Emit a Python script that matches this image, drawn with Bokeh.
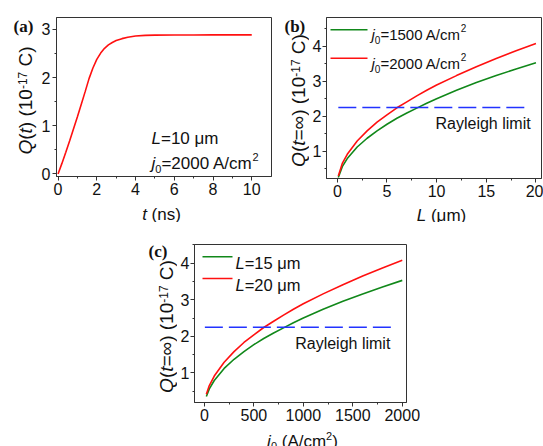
import math
from bokeh.plotting import figure
from bokeh.layouts import column, row
from bokeh.models import Label, Arrow, FixedTicker, Range1d
from bokeh.embed import file_html
from bokeh.resources import INLINE

# ---------------- data ----------------
t_ns = [0, 0.2, 0.4, 0.6, 0.8, 1.0, 1.2, 1.4, 1.6, 1.8, 2.0, 2.2, 2.4, 2.6, 2.8,
        3.0, 3.3, 3.6, 4.0, 4.5, 5.0, 6.0, 7.0, 8.0, 9.0, 10.0]
q_t = [0, 0.22, 0.45, 0.69, 0.94, 1.19, 1.45, 1.71, 1.98, 2.20, 2.38, 2.51, 2.61,
       2.68, 2.73, 2.77, 2.81, 2.84, 2.865, 2.877, 2.883, 2.886, 2.887, 2.888, 2.888, 2.888]

L_um = [0.1, 0.5, 1, 2, 3, 4, 5, 6, 7, 8, 9, 10, 12, 14, 16, 18, 20]
q_L_j1500 = [0.25, 0.56, 0.79, 1.12, 1.37, 1.58, 1.77, 1.94, 2.09, 2.23, 2.37, 2.50,
             2.74, 2.96, 3.16, 3.35, 3.53]
q_L_j2000 = [0.29, 0.65, 0.91, 1.29, 1.58, 1.83, 2.04, 2.24, 2.41, 2.58, 2.74, 2.89,
             3.16, 3.41, 3.65, 3.87, 4.08]

j0_Acm2 = [20, 50, 100, 200, 300, 400, 500, 600, 700, 800, 900, 1000, 1200, 1400, 1600, 1800, 2000]
q_j_L15 = [0.35, 0.56, 0.79, 1.12, 1.37, 1.58, 1.77, 1.94, 2.09, 2.23, 2.37, 2.50,
           2.74, 2.96, 3.16, 3.35, 3.53]
q_j_L20 = [0.41, 0.65, 0.91, 1.29, 1.58, 1.83, 2.04, 2.24, 2.41, 2.58, 2.74, 2.89,
           3.16, 3.41, 3.65, 3.87, 4.08]

rayleigh_limit = 2.25
rayleigh_L_span = [0.1, 19.1]
rayleigh_j_span = [5, 1900]

a_xticks = [0, 2, 4, 6, 8, 10]
a_xminor = [1, 3, 5, 7, 9]
a_yticks = [0, 1, 2, 3]
a_yminor = [0.5, 1.5, 2.5]
b_xticks = [0, 5, 10, 15, 20]
b_xminor = [2.5, 7.5, 12.5, 17.5]
b_yticks = [1, 2, 3, 4]
b_yminor = [0.5, 1.5, 2.5, 3.5, 4.5]
c_xticks = [0, 500, 1000, 1500, 2000]
c_xminor = [250, 750, 1250, 1750]
c_yticks = [1, 2, 3, 4]
c_yminor = [0.5, 1.5, 2.5, 3.5, 4.5]

# ---------------- styling ----------------
FONT = "Liberation Sans"
SERIF = "Liberation Serif"
TXT = "#111111"
AX = "#333333"
RED = "#ff1010"
GREEN = "#11881a"
BLUE = "#2233ff"

W = {' ': 278, '(': 333, ')': 333, '=': 584, '-': 333, '/': 278, 'A': 667, 'C': 722,
     'L': 556, 'Q': 778, 'R': 722, 'a': 556, 'c': 500, 'e': 556, 'g': 556, 'h': 556,
     'i': 222, 'j': 222, 'l': 222, 'm': 833, 'n': 556, 's': 500, 't': 278, 'y': 500,
     '\u03bc': 576, '\u221e': 713}
for d in "0123456789":
    W[d] = 556


def tw(s, size):
    return sum(W.get(ch, 556) for ch in s) * size / 1000.0


def make_fig(w, h, xr, yr, borders, xt, xm, yt, ym, ystand):
    l, r, t, b = borders
    p = figure(width=w, height=h, x_range=Range1d(*xr), y_range=Range1d(*yr),
               output_backend="svg", toolbar_location=None,
               min_border_left=l, min_border_right=r, min_border_top=t, min_border_bottom=b)
    p.grid.visible = False
    p.outline_line_color = AX
    p.outline_line_width = 1
    p.background_fill_color = "white"
    p.border_fill_color = "white"
    p.xaxis.ticker = FixedTicker(ticks=xt, minor_ticks=xm)
    p.yaxis.ticker = FixedTicker(ticks=yt, minor_ticks=ym)
    for ax in p.axis:
        ax.axis_line_color = AX
        ax.major_tick_line_color = AX
        ax.minor_tick_line_color = AX
        ax.major_tick_in = 0
        ax.major_tick_out = 4
        ax.minor_tick_in = 0
        ax.minor_tick_out = 2
        ax.major_label_text_font = FONT
        ax.major_label_text_font_size = "16px"
        ax.major_label_text_color = TXT
    p.xaxis.major_label_standoff = 2
    p.yaxis.major_label_standoff = ystand
    return p


def carrier(w, h):
    """Blank figure used only to hold text placed outside the plot frames."""
    p = figure(width=w, height=h, x_axis_type=None, y_axis_type=None,
               output_backend="svg", toolbar_location=None,
               min_border_left=0, min_border_right=0, min_border_top=0, min_border_bottom=0)
    p.outline_line_color = None
    p.background_fill_color = "white"
    p.border_fill_color = "white"
    return p


def rich(p, org, parts, rx, ry, align="left", vertical=False):
    """parts: (text, size, style, dy); org = page position of frame's left/bottom."""
    total = sum(tw(s, sz) for s, sz, st, dy in parts)
    pos = -total / 2.0 if align == "center" else 0.0
    sx0 = rx - org[0]
    sy0 = org[1] - ry
    for s, sz, st, dy in parts:
        lead = len(s) - len(s.lstrip(' '))
        txt = s.strip(' ')
        off = pos + lead * W[' '] * sz / 1000.0
        if vertical:
            # rotated text is anchored on its descent line (rx is the baseline)
            x, y, ang, base = sx0 - dy + 0.21 * sz, sy0 + off, math.pi / 2, "bottom"
        else:
            x, y, ang, base = sx0 + off, sy0 + dy, 0, "alphabetic"
        p.add_layout(Label(x=x, y=y, x_units="screen", y_units="screen", text=txt,
                           angle=ang, text_font=FONT, text_font_size=f"{sz}px",
                           text_font_style=st, text_align="left",
                           text_baseline=base, text_color=TXT))
        pos += tw(s, sz)


def panel_tag(p, org, s, rx, ry):
    p.add_layout(Label(x=rx - org[0], y=org[1] - ry, x_units="screen",
                       y_units="screen", text=s, text_font=SERIF, text_font_size="17px",
                       text_font_style="bold", text_align="left",
                       text_baseline="alphabetic", text_color=TXT))


def legend_line(p, org, x0, x1, ry, color):
    y = org[1] - ry
    p.add_layout(Arrow(end=None, start=None, x_start=x0 - org[0], x_end=x1 - org[0],
                       y_start=y, y_end=y, start_units="screen", end_units="screen",
                       line_color=color, line_width=1.6))


def ylabel_parts(inner):
    return [("Q", 19, "italic", 0), ("(", 19, "normal", 0), ("t", 19, "italic", 0),
            (inner + ") (10", 19, "normal", 0), ("-17", 12, "normal", 8),
            (" C)", 19, "normal", 0)]


# ---------------- panel (a) ----------------
LA = carrier(38, 222)
orgLA = (0, 222)
panel_tag(LA, orgLA, "(a)", 13, 26)
rich(LA, orgLA, ylabel_parts(""), 31.5, 100, align="center", vertical=True)

pa = make_fig(238, 200, (-0.08, 11.02), (-0.052, 3.249), (15, 5, 17, 24),
              a_xticks, a_xminor, a_yticks, a_yminor, 2)
orgA = (53, 176)
pa.line(t_ns, q_t, line_color=RED, line_width=1.6)
rich(pa, orgA, [("L", 17, "italic", 0), ("=10 \u03bcm", 17, "normal", 0)], 148, 138.3)
rich(pa, orgA, [("j", 17, "italic", 0), ("0", 11, "normal", -5), ("=2000 A/cm", 17, "normal", 0),
                ("2", 11, "normal", 7)], 148, 163.3)

BA = carrier(238, 22)
orgBA = (53, 222)      # its frame is aligned with panel (a)'s frame
rich(BA, orgBA, [("t", 17, "italic", 0), (" (ns)", 17, "normal", 0)], 158, 213.5, align="center")

# ---------------- panel (b) ----------------
LB = carrier(33, 222)
orgLB = (276, 222)
panel_tag(LB, orgLB, "(b)", 284, 26)
rich(LB, orgLB, ylabel_parts("=\u221e"), 304.5, 100, align="center", vertical=True)

pb = make_fig(234, 202, (-1.09, 20.56), (0.22, 4.82), (14, 2, 17, 24),
              b_xticks, b_xminor, b_yticks, b_yminor, 1)
orgB = (323, 178)
pb.line(L_um, q_L_j1500, line_color=GREEN, line_width=1.6)
pb.line(L_um, q_L_j2000, line_color=RED, line_width=1.6)
pb.line(rayleigh_L_span, [rayleigh_limit] * 2, line_color=BLUE, line_width=1.5, line_dash="18 6")
legend_line(pb, orgB, 327, 364, 29.3, GREEN)
legend_line(pb, orgB, 327, 364, 57.7, RED)
rich(pb, orgB, [("j", 15, "italic", 0), ("0", 10, "normal", -5), ("=1500 A/cm", 15, "normal", 0),
                ("2", 10, "normal", 7)], 368, 34.3)
rich(pb, orgB, [("j", 15, "italic", 0), ("0", 10, "normal", -5), ("=2000 A/cm", 15, "normal", 0),
                ("2", 10, "normal", 7)], 368, 63.3)
rich(pb, orgB, [("Rayleigh limit", 16, "normal", 0)], 432, 122.7)

BB = carrier(234, 20)
orgBB = (323, 222)     # aligned with panel (b)'s frame
rich(BB, orgBB, [("L", 17, "italic", 0), (" (\u03bcm)", 17, "normal", 0)], 438, 215, align="center")

# ---------------- panel (c) ----------------
LC = carrier(177, 224)
orgLC = (0, 446)
panel_tag(LC, orgLC, "(c)", 148, 251)
rich(LC, orgLC, ylabel_parts("=\u221e"), 172.5, 326, align="center", vertical=True)

pc = make_fig(243, 204, (-99.7, 2042.8), (0.187, 4.512), (14, 14, 22, 24),
              c_xticks, c_xminor, c_yticks, c_yminor, 1)
orgC = (191, 402)
pc.line(j0_Acm2, q_j_L15, line_color=GREEN, line_width=1.6)
pc.line(j0_Acm2, q_j_L20, line_color=RED, line_width=1.6)
pc.line(rayleigh_j_span, [rayleigh_limit] * 2, line_color=BLUE, line_width=1.5, line_dash="18 6")
legend_line(pc, orgC, 199, 229, 256.3, GREEN)
legend_line(pc, orgC, 199, 229, 278, RED)
rich(pc, orgC, [("L", 16.5, "italic", 0), ("=15 \u03bcm", 16.5, "normal", 0)], 232, 262.7)
rich(pc, orgC, [("L", 16.5, "italic", 0), ("=20 \u03bcm", 16.5, "normal", 0)], 232, 284.3)
rich(pc, orgC, [("Rayleigh limit", 16, "normal", 0)], 291.7, 343.3)

BC = carrier(243, 20)
orgBC = (191, 446)     # aligned with panel (c)'s frame
rich(BC, orgBC, [("j", 17, "italic", 0), ("0", 11, "normal", -4), (" (A/cm", 17, "normal", 0),
                 ("2", 11, "normal", 6), (")", 17, "normal", 0)], 299, 441, align="center")

layout = column(row(LA, column(pa, BA), LB, column(pb, BB)),
                row(LC, column(pc, BC)))
open("out.html", "w").write(file_html(layout, INLINE))
